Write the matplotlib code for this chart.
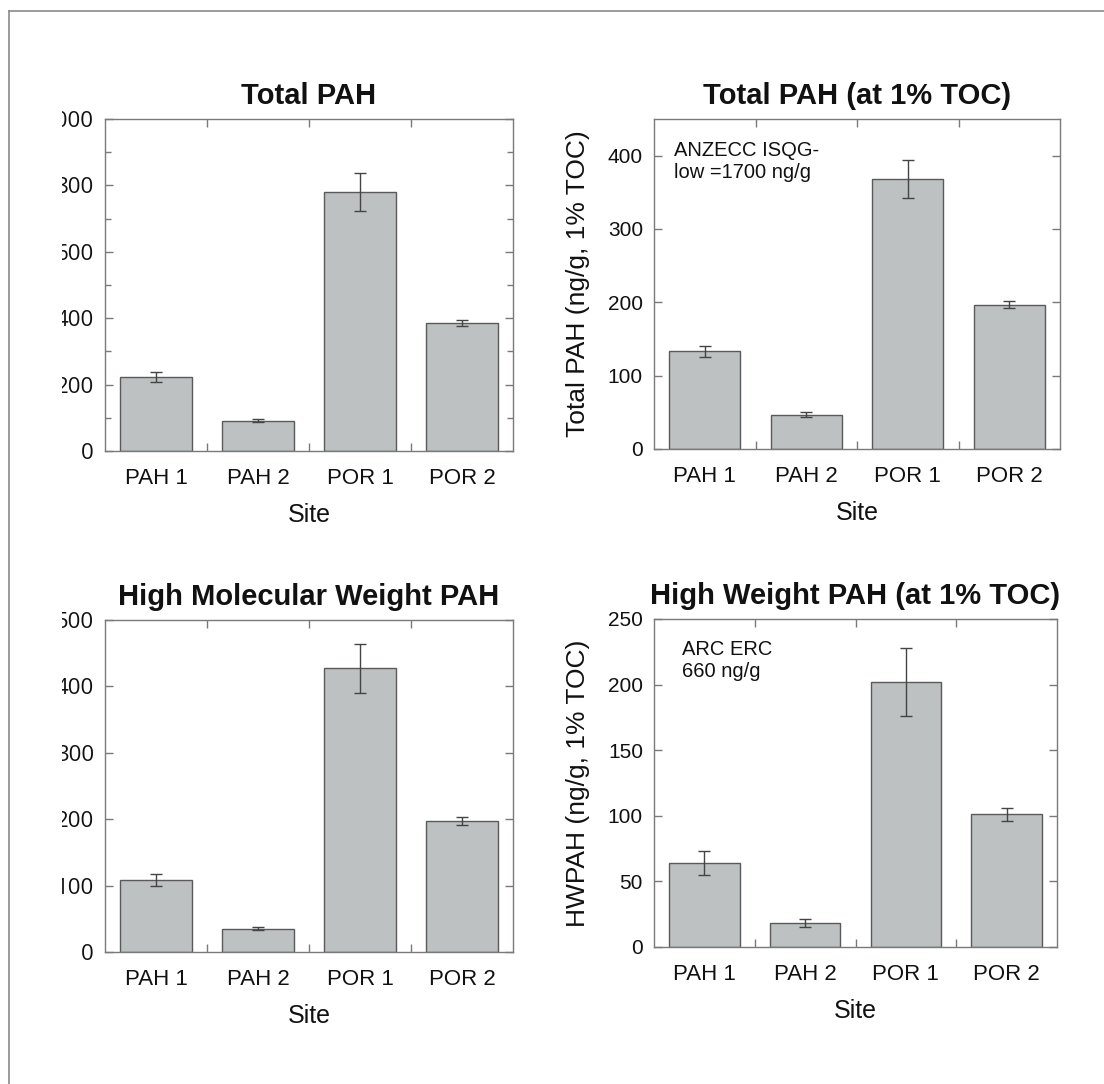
import matplotlib
matplotlib.use('Agg')
import matplotlib.pyplot as plt
from matplotlib.lines import Line2D
from matplotlib.transforms import Bbox, TransformedBbox

sites = ['PAH 1', 'PAH 2', 'POR 1', 'POR 2']

total_pah = [224, 91, 779, 386]
total_pah_err = [15, 4, 57, 9]

total_pah_toc = [133, 47, 368, 197]
total_pah_toc_err = [8, 4, 26, 5]

hmw_pah = [108, 35, 427, 198]
hmw_pah_err = [9, 2, 37, 6]

hw_pah_toc = [64, 18, 202, 101]
hw_pah_toc_err = [9, 3, 26, 5]

titles = ['Total PAH', 'Total PAH (at 1% TOC)',
          'High Molecular Weight PAH', 'High Weight PAH (at 1% TOC)']
ylabels = [None, 'Total PAH (ng/g, 1% TOC)', None, 'HWPAH (ng/g, 1% TOC)']
notes = [None, 'ANZECC ISQG-\nlow =1700 ng/g', None, 'ARC ERC\n660 ng/g']
ylims = [1000, 450, 500, 250]
major = [200, 100, 100, 50]
minor = [100, None, None, None]

values = [total_pah, total_pah_toc, hmw_pah, hw_pah_toc]
errors = [total_pah_err, total_pah_toc_err, hmw_pah_err, hw_pah_toc_err]

W, H = 1104, 1084
fig = plt.figure(figsize=(W / 100, H / 100), dpi=100)

# axes boxes in pixels: left, top, right, bottom
boxes = [(105, 119, 513, 451), (654, 119, 1060, 449),
         (105, 620, 513, 952), (654, 619, 1057, 947)]

bar_c = '#bdc1c1'
edge_c = '#5a5a5a'
spine_c = '#7a7a7a'
arial = 'Liberation Sans'

for i in range(4):
    l, t, r, b = boxes[i]
    ax = fig.add_axes([l / W, 1 - b / H, (r - l) / W, (b - t) / H])
    x = range(len(sites))
    ax.bar(x, values[i], width=0.7, color=bar_c, edgecolor=edge_c, linewidth=1.0, zorder=2)
    ax.errorbar(x, values[i], yerr=errors[i], fmt='none', ecolor='#444444',
                elinewidth=1.0, capsize=4, capthick=1.0, zorder=3)
    ax.set_xlim(-0.5, 3.5)
    ax.set_ylim(0, ylims[i])
    ax.set_title(titles[i], fontsize=21, fontweight='bold', family=arial, pad=11, color='#111111')

    # labels at bar centres, ticks at boundaries
    ax.set_xticks(list(x))
    ax.set_xticklabels(sites, family=arial, fontsize=16, color='#111111')
    ax.set_xticks([0.5, 1.5, 2.5], minor=True)
    ax.tick_params(axis='x', which='major', length=0, pad=12)
    ax.tick_params(axis='x', which='minor', direction='in', length=6, top=True,
                   color=spine_c, width=1)
    ax.set_xlabel('Site', family=arial, fontsize=18, labelpad=10, color='#111111')

    ax.set_yticks(range(0, ylims[i] + 1, major[i]))
    if minor[i]:
        ax.set_yticks(range(0, ylims[i] + 1, minor[i]), minor=True)
        ax.tick_params(axis='y', which='minor', direction='in', length=4, right=True,
                       color=spine_c, width=1)
    ax.tick_params(axis='y', which='major', direction='in', length=6, right=True,
                   color=spine_c, width=1, labelsize=15, pad=8, labelcolor='#111111')
    for s in ax.spines.values():
        s.set_color(spine_c)
        s.set_linewidth(1.0)

    if i % 2 == 0:
        # left column: tick labels cut off by the page edge
        clip = TransformedBbox(Bbox([[62 / W, 0], [1, 1]]), fig.transFigure)
        for lab in ax.get_yticklabels():
            lab.set_family('Open Sans')
            lab.set_fontsize(16)
            lab.set_clip_box(clip)
            lab.set_clip_on(True)
    else:
        for lab in ax.get_yticklabels():
            lab.set_family(arial)
        ax.set_ylabel(ylabels[i], family=arial, fontsize=19, color='#111111')
        ax.yaxis.set_label_coords(-0.158, 0.5)

    if notes[i]:
        nx = 674 if i == 1 else 682
        ny = 141 if i == 1 else 640
        ax.text((nx - l) / (r - l), (b - ny) / (b - t), notes[i], transform=ax.transAxes,
                ha='left', va='top', fontsize=14.5, family=arial, color='#111111',
                linespacing=1.2)

# page frame (top and left edges)
fig.add_artist(Line2D([9 / W, 9 / W], [0, 1 - 11 / H], transform=fig.transFigure,
                      color='#8a8a8a', lw=1.2))
fig.add_artist(Line2D([9 / W, 1], [1 - 11 / H, 1 - 11 / H], transform=fig.transFigure,
                      color='#8a8a8a', lw=1.2))

fig.savefig('out.png', dpi=100, facecolor='white')
